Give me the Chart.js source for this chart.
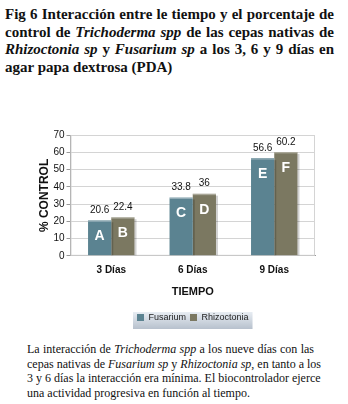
<!DOCTYPE html>
<html>
<head>
<meta charset="utf-8">
<script src="https://cdn.jsdelivr.net/npm/chart.js@4.4.0/dist/chart.umd.min.js"></script>
<style>
  body { margin: 0; background: #fff; width: 348px; height: 404px; position: relative; overflow: hidden; }
  #title { position: absolute; left: 5px; top: 6px; width: 329px; font: bold 15px "Liberation Serif", "Times New Roman", serif; line-height: 17.5px; color: #111; }
  #title div, #caption div { text-align: justify; text-align-last: justify; white-space: nowrap; }
  #title div.last, #caption div.last { text-align-last: left; }
  #caption { position: absolute; left: 27px; top: 342px; width: 287px; font: 12px "Liberation Serif", "Times New Roman", serif; line-height: 14.5px; color: #111; }
  #wrap { position: absolute; left: 30px; top: 125px; width: 300px; height: 209px; }
</style>
</head>
<body>
<div id="title">
  <div>Fig 6 Interacción entre le tiempo y el porcentaje de</div>
  <div>control de <i>Trichoderma spp</i> de las cepas nativas de</div>
  <div><i>Rhizoctonia sp</i> y <i>Fusarium sp</i> a los 3, 6 y 9 días en</div>
  <div class="last">agar papa dextrosa (PDA)</div>
</div>
<div id="wrap"><canvas id="chart"></canvas></div>
<div id="caption">
  <div>La interacción de <i>Trichoderma spp</i> a los nueve días con las</div>
  <div>cepas nativas de <i>Fusarium sp</i> y <i>Rhizoctonia sp</i>, en tanto a los</div>
  <div>3 y 6 días la interacción era mínima. El biocontrolador ejerce</div>
  <div class="last">una actividad progresiva en función al tiempo.</div>
</div>
<script>
const categories = ["3 Días", "6 Días", "9 Días"];
const fusarium = [20.6, 33.8, 56.6];
const rhizoctonia = [22.4, 36, 60.2];
const fusariumLetters = ["A", "C", "E"];
const rhizoctoniaLetters = ["B", "D", "F"];
const yTicks = [0, 10, 20, 30, 40, 50, 60, 70];

const font = '"Liberation Sans", Arial, sans-serif';
const letters = [fusariumLetters, rhizoctoniaLetters];

// values above bars, letters inside, frame around plot
const barText = {
  id: "barText",
  beforeDatasetsDraw(chart) {
    const { ctx, chartArea } = chart;
    ctx.save();
    ctx.strokeStyle = "#d4d4d4";
    ctx.lineWidth = 1;
    ctx.strokeRect(chartArea.left + 0.5, chartArea.top + 0.5, chartArea.width - 1, chartArea.height - 1);
    ctx.restore();
  },
  afterDatasetsDraw(chart) {
    const { ctx } = chart;
    ctx.save();
    chart.data.datasets.forEach((ds, i) => {
      chart.getDatasetMeta(i).data.forEach((bar, j) => {
        // little shadow on the right and a light top edge
        ctx.fillStyle = "rgba(0,0,0,0.18)";
        ctx.fillRect(bar.x + bar.width / 2, bar.y + 2, 2, bar.base - bar.y - 2);
        ctx.fillStyle = "rgba(255,255,255,0.35)";
        ctx.fillRect(bar.x - bar.width / 2, bar.y, bar.width, 1.5);
        ctx.fillStyle = "#111";
        ctx.font = "10px " + font;
        ctx.textAlign = "center";
        ctx.textBaseline = "bottom";
        ctx.fillText(String(ds.data[j]), bar.x, bar.y - 5);
        ctx.fillStyle = "#fff";
        ctx.font = "bold 14px " + font;
        ctx.textBaseline = "middle";
        ctx.fillText(letters[i][j], bar.x, bar.y + 16);
      });
    });
    ctx.restore();
  },
};

// legend centred under the plot, on a grey box
const legendBox = {
  id: "legendBox",
  afterLayout(chart) {
    const lg = chart.legend;
    const shift = (chart.chartArea.left + chart.chartArea.right) / 2 - (lg.left + lg.right) / 2;
    lg.left += shift;
    lg.right += shift;
  },
  beforeDraw(chart) {
    const lg = chart.legend;
    if (!lg || !lg.legendHitBoxes.length) return;
    const { ctx } = chart;
    const boxes = lg.legendHitBoxes;
    const w = boxes[boxes.length - 1].left + boxes[boxes.length - 1].width - boxes[0].left + 8;
    const cx = (lg.left + lg.right) / 2;
    const cy = (lg.top + lg.bottom) / 2;
    const h = 17;
    const g = ctx.createLinearGradient(0, cy - h / 2, 0, cy + h / 2);
    g.addColorStop(0, "#e8edf3");
    g.addColorStop(1, "#b7c1cd");
    ctx.save();
    ctx.fillStyle = g;
    ctx.fillRect(cx - w / 2, cy - h / 2, w, h);
    ctx.restore();
  },
};

new Chart(document.getElementById("chart"), {
  type: "bar",
  data: {
    labels: categories,
    datasets: [
      {
        label: "Fusarium",
        data: fusarium,
        backgroundColor: "#5b8391",
        borderWidth: 0,
      },
      {
        label: "Rhizoctonia",
        data: rhizoctonia,
        backgroundColor: "#7b7861",
        borderWidth: 0,
      },
    ],
  },
  options: {
    responsive: true,
    maintainAspectRatio: false,
    animation: false,
    layout: { padding: { left: 7, right: 15, top: 10, bottom: 2 } },
    datasets: { bar: { categoryPercentage: 0.57, barPercentage: 1 } },
    plugins: {
      tooltip: { enabled: false },
      legend: {
        position: "bottom",
        labels: {
          boxWidth: 7,
          boxHeight: 7,
          padding: 4,
          color: "#222",
          font: { family: font, size: 9 },
        },
      },
    },
    scales: {
      x: {
        grid: { display: false, drawTicks: false },
        border: { color: "#999" },
        ticks: { color: "#111", font: { family: font, size: 10, weight: "bold" }, padding: 8 },
        title: {
          display: true,
          text: "TIEMPO",
          color: "#111",
          font: { family: font, size: 11, weight: "bold" },
          padding: { top: 2, bottom: 10 },
        },
      },
      y: {
        min: 0,
        max: 70,
        afterBuildTicks: (axis) => {
          axis.ticks = yTicks.map((v) => ({ value: v }));
        },
        grid: { color: "#d4d4d4", drawTicks: true, tickLength: 4, tickColor: "#999" },
        border: { color: "#999" },
        ticks: { color: "#111", font: { family: font, size: 10 }, padding: 2, autoSkip: false },
        title: {
          display: true,
          text: "% CONTROL",
          color: "#111",
          font: { family: font, size: 12, weight: "bold" },
          padding: { top: 0, bottom: 0 },
        },
      },
    },
  },
  plugins: [barText, legendBox],
});
</script>
</body>
</html>
